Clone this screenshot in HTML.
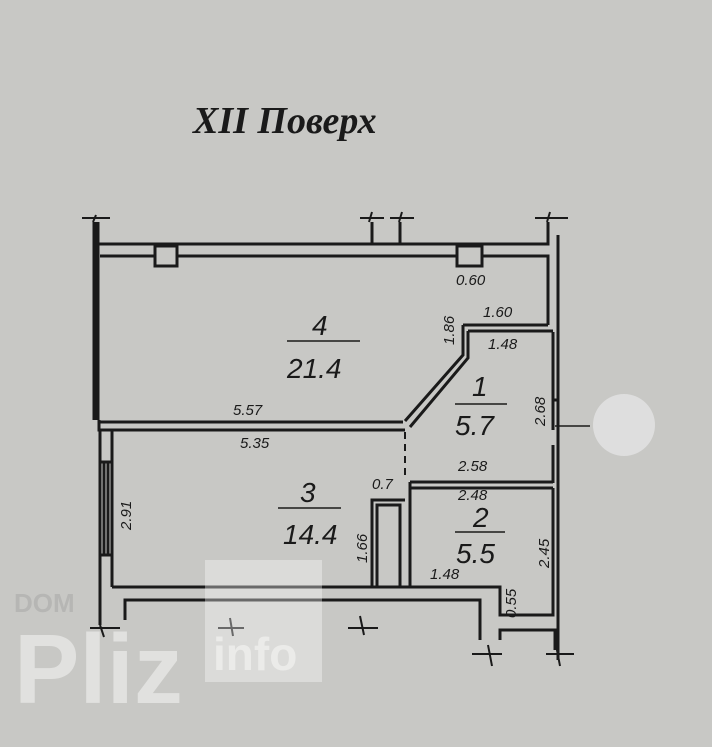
<!DOCTYPE html>
<html><head><meta charset="utf-8"><style>
html,body{margin:0;padding:0;background:#c8c8c5;}
svg{display:block}
text{font-family:"Liberation Sans",sans-serif;font-style:italic;fill:#1a1a1a}
</style></head><body>
<svg width="712" height="747" viewBox="0 0 712 747" xmlns="http://www.w3.org/2000/svg">
<rect width="712" height="747" fill="#c8c8c5"/>
<circle cx="624" cy="425" r="31" fill="#dedede"/>
<text x="193" y="133" style="font-family:'Liberation Serif',serif;font-size:38px;font-weight:bold">XII  Поверх</text>
<g stroke="#1a1a1a" stroke-width="3" fill="none">
<!-- top wall -->
<path d="M97 244 H372 V222 M400 222 V244 H548 V222"/>
<path d="M100 256 H548 V325"/>
<path d="M372 244 H400"/>
<rect x="155" y="246" width="22" height="20" fill="#c8c8c5"/>
<rect x="457" y="246" width="25" height="20" fill="#c8c8c5"/>
<!-- left thick wall -->
<line x1="96" y1="222" x2="96" y2="420" stroke-width="7"/>
<!-- right outer wall -->
<path d="M558 235 V660"/>
<path d="M553 332 V400 H558 M553 400 V430 M553 445 V483"/>
<!-- room1 top -->
<path d="M463 325 H548 M468 331 H553"/>
<path d="M463 325 V355 L405 421 M468 331 V358 L410 427"/>
<!-- wall 4/3 -->
<path d="M99 422 H403 M112 430 H405"/>
<path d="M99 420 V430 H112"/>
<!-- left wall room 3 -->
<path d="M100 430 V587 M112 430 V587 M100 462 H112 M100 555 H112 M104 462 V555 M108 462 V555"/>
<!-- dashed -->
<path d="M405 432 V478" stroke-dasharray="7 5" stroke-width="2"/>
<!-- wall between 1 and 2 -->
<path d="M410 482 H553 M410 488 H553"/>
<!-- closet -->
<path d="M372 587 V500 H405 M377 587 V505 H400 V587"/>
<path d="M410 482 V587"/>
<!-- bottom wall -->
<path d="M112 587 H410"/>
<path d="M100 587 V625 M125 620 V600 H480 V640"/>
<path d="M410 587 H500 V615 H553 V488"/>
<path d="M500 640 V630 H555 V650"/>
<!-- ticks -->
<path d="M82 218 H110 M360 218 H384 M390 218 H414 M535 218 H568 M90 628 H120 M218 628 H244 M348 628 H378 M472 654 H502 M546 654 H574" stroke-width="2"/>
<path d="M96 215 L93 222 M372 212 L369 222 M402 212 L399 222 M550 212 L547 222 M100 625 L104 637 M230 618 L233 636 M360 616 L364 635 M488 645 L492 666 M556 645 L560 666" stroke-width="2"/>
<!-- fraction lines -->
<path d="M287 341 H360 M455 404 H507 M278 508 H341 M455 532 H505 M555 426 H590" stroke-width="1.5"/>
</g>
<g font-size="15">
<text x="456" y="285">0.60</text>
<text x="483" y="317">1.60</text>
<text x="488" y="349">1.48</text>
<text x="233" y="415">5.57</text>
<text x="240" y="448">5.35</text>
<text x="458" y="471">2.58</text>
<text x="458" y="500">2.48</text>
<text x="372" y="489">0.7</text>
<text x="430" y="579">1.48</text>
<text transform="translate(454,345) rotate(-90)">1.86</text>
<text transform="translate(545,426) rotate(-90)">2.68</text>
<text transform="translate(131,530) rotate(-90)">2.91</text>
<text transform="translate(367,563) rotate(-90)">1.66</text>
<text transform="translate(549,568) rotate(-90)">2.45</text>
<text transform="translate(516,618) rotate(-90)">0.55</text>
</g>
<g font-size="28">
<text x="312" y="335">4</text>
<text x="287" y="378">21.4</text>
<text x="472" y="396">1</text>
<text x="455" y="435">5.7</text>
<text x="300" y="502">3</text>
<text x="283" y="544">14.4</text>
<text x="473" y="527">2</text>
<text x="456" y="563">5.5</text>
</g>
<text x="14" y="612" style="font-style:normal;font-weight:bold;font-size:26px;fill:#b6b6b4">DOM</text>
<rect x="205" y="560" width="117" height="122" fill="#ffffff" opacity="0.35"/>
<text x="14" y="703" style="font-style:normal;font-weight:bold;font-size:98px;fill:#e6e6e4;opacity:0.85">Pliz</text>
<text x="213" y="670" style="font-style:normal;font-weight:bold;font-size:46px;fill:#f0f0ee;opacity:0.8">info</text>
</svg>
</body></html>
